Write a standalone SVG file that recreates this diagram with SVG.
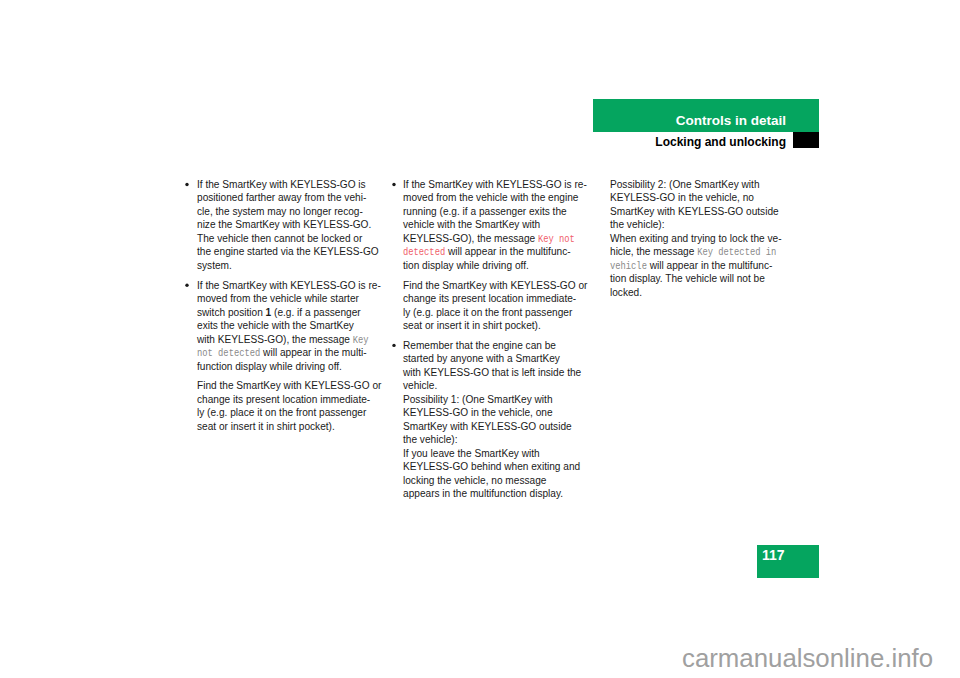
<svg xmlns="http://www.w3.org/2000/svg" width="960" height="678" viewBox="0 0 960 678">
<style>
.b{font-family:"Liberation Sans",Arial,sans-serif;font-size:11.5px;fill:#1a1a1a}
.m{font-family:"Liberation Mono","DejaVu Sans Mono",monospace;font-size:10px;fill:#8a8a8a}
.r{font-family:"Liberation Mono","DejaVu Sans Mono",monospace;font-size:10px;fill:#f0606a}
.bold{font-weight:bold}
.h{font-family:"Liberation Sans",Arial,sans-serif;font-weight:bold}
.dot{fill:#1a1a1a}
.green{fill:#05a55f}
</style>
<rect width="960" height="678" fill="#ffffff"/>
<g id="header">
<rect class="green" x="593" y="99" width="226" height="33"/>
<rect x="793" y="132" width="26" height="16" fill="#000000"/>
<text x="786" y="125" text-anchor="end" class="h" font-size="13.5" fill="#ffffff">Controls in detail</text>
<text x="786" y="146" text-anchor="end" class="h" font-size="12" fill="#000000">Locking and unlocking</text>
</g>
<g id="bullets">
<circle class="dot" cx="187" cy="184.5" r="1.7"/>
<circle class="dot" cx="187" cy="285.2" r="1.7"/>
<circle class="dot" cx="394" cy="184.5" r="1.7"/>
<circle class="dot" cx="394" cy="345.4" r="1.7"/>
</g>
<g id="column1" transform="translate(197 0) scale(0.88 1)">
<text class="b">
<tspan x="0" y="188">If the SmartKey with KEYLESS-GO is</tspan>
<tspan x="0" y="201.5">positioned farther away from the vehi-</tspan>
<tspan x="0" y="215">cle, the system may no longer recog-</tspan>
<tspan x="0" y="228.5">nize the SmartKey with KEYLESS-GO.</tspan>
<tspan x="0" y="242">The vehicle then cannot be locked or</tspan>
<tspan x="0" y="255.5">the engine started via the KEYLESS-GO</tspan>
<tspan x="0" y="269">system.</tspan>
</text>
<text class="b">
<tspan x="0" y="288.7">If the SmartKey with KEYLESS-GO is re-</tspan>
<tspan x="0" y="302.2">moved from the vehicle while starter</tspan>
<tspan x="0" y="315.7">switch position <tspan class="bold">1</tspan> (e.g. if a passenger</tspan>
<tspan x="0" y="329.2">exits the vehicle with the SmartKey</tspan>
<tspan x="0" y="342.7">with KEYLESS-GO), the message <tspan class="m">Key</tspan></tspan>
<tspan x="0" y="356.2"><tspan class="m">not detected</tspan> will appear in the multi-</tspan>
<tspan x="0" y="369.7">function display while driving off.</tspan>
</text>
<text class="b">
<tspan x="0" y="389.4">Find the SmartKey with KEYLESS-GO or</tspan>
<tspan x="0" y="402.9">change its present location immediate-</tspan>
<tspan x="0" y="416.4">ly (e.g. place it on the front passenger</tspan>
<tspan x="0" y="429.9">seat or insert it in shirt pocket).</tspan>
</text>
</g>
<g id="column2" transform="translate(403 0) scale(0.88 1)">
<text class="b">
<tspan x="0" y="188">If the SmartKey with KEYLESS-GO is re-</tspan>
<tspan x="0" y="201.5">moved from the vehicle with the engine</tspan>
<tspan x="0" y="215">running (e.g. if a passenger exits the</tspan>
<tspan x="0" y="228.5">vehicle with the SmartKey with</tspan>
<tspan x="0" y="242">KEYLESS-GO), the message <tspan class="r">Key not</tspan></tspan>
<tspan x="0" y="255.5"><tspan class="r">detected</tspan> will appear in the multifunc-</tspan>
<tspan x="0" y="269">tion display while driving off.</tspan>
</text>
<text class="b">
<tspan x="0" y="288.7">Find the SmartKey with KEYLESS-GO or</tspan>
<tspan x="0" y="302.2">change its present location immediate-</tspan>
<tspan x="0" y="315.7">ly (e.g. place it on the front passenger</tspan>
<tspan x="0" y="329.2">seat or insert it in shirt pocket).</tspan>
</text>
<text class="b">
<tspan x="0" y="348.9">Remember that the engine can be</tspan>
<tspan x="0" y="362.4">started by anyone with a SmartKey</tspan>
<tspan x="0" y="375.9">with KEYLESS-GO that is left inside the</tspan>
<tspan x="0" y="389.4">vehicle.</tspan>
<tspan x="0" y="402.9">Possibility 1: (One SmartKey with</tspan>
<tspan x="0" y="416.4">KEYLESS-GO in the vehicle, one</tspan>
<tspan x="0" y="429.9">SmartKey with KEYLESS-GO outside</tspan>
<tspan x="0" y="443.4">the vehicle):</tspan>
<tspan x="0" y="456.9">If you leave the SmartKey with</tspan>
<tspan x="0" y="470.4">KEYLESS-GO behind when exiting and</tspan>
<tspan x="0" y="483.9">locking the vehicle, no message</tspan>
<tspan x="0" y="497.4">appears in the multifunction display.</tspan>
</text>
</g>
<g id="column3" transform="translate(610 0) scale(0.88 1)">
<text class="b">
<tspan x="0" y="188">Possibility 2: (One SmartKey with</tspan>
<tspan x="0" y="201.5">KEYLESS-GO in the vehicle, no</tspan>
<tspan x="0" y="215">SmartKey with KEYLESS-GO outside</tspan>
<tspan x="0" y="228.5">the vehicle):</tspan>
<tspan x="0" y="242">When exiting and trying to lock the ve-</tspan>
<tspan x="0" y="255.5">hicle, the message <tspan class="m">Key detected in</tspan></tspan>
<tspan x="0" y="269"><tspan class="m">vehicle</tspan> will appear in the multifunc-</tspan>
<tspan x="0" y="282.5">tion display. The vehicle will not be</tspan>
<tspan x="0" y="296">locked.</tspan>
</text>
</g>
<g id="page-number">
<rect class="green" x="757" y="545" width="62" height="33"/>
<text x="762" y="560" class="h" font-size="14" fill="#ffffff">117</text>
</g>
<g id="watermark">
<text x="682" y="667" font-family="'Liberation Sans',Arial,sans-serif" font-size="25" fill="#a0a0a0" textLength="251" lengthAdjust="spacingAndGlyphs">carmanualsonline.info</text>
</g>
</svg>
